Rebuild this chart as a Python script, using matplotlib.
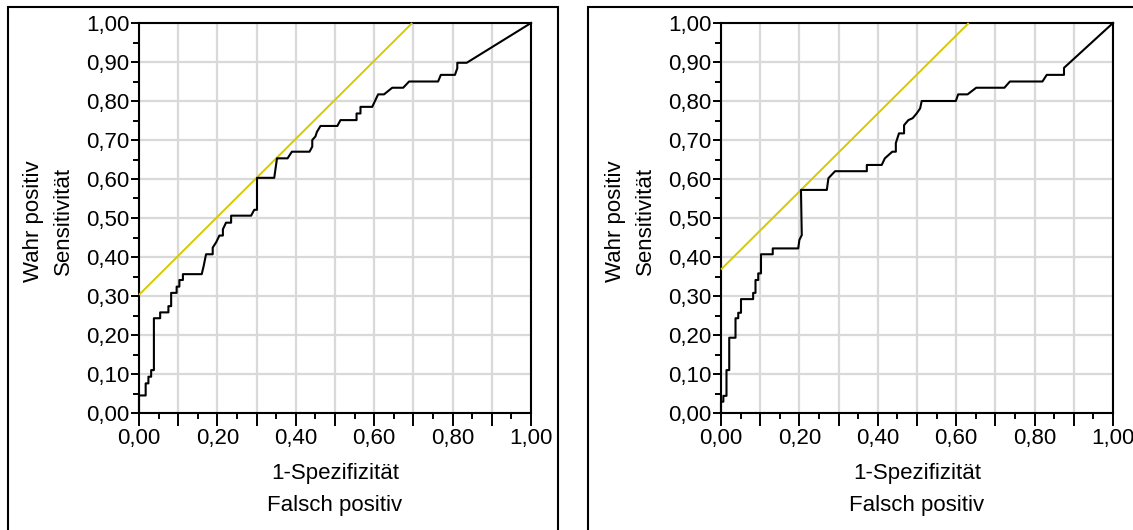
import matplotlib
matplotlib.use("Agg")
import matplotlib.pyplot as plt
from matplotlib.patches import Rectangle
from matplotlib.ticker import MultipleLocator, FuncFormatter

plt.rcParams['font.family'] = ['Liberation Sans', 'DejaVu Sans']

# ---- data: left ROC ----
fpr_left = [0, 0, 0.017, 0.017, 0.024, 0.024, 0.031, 0.031, 0.038, 0.038, 0.054, 0.054,
            0.075, 0.075, 0.082, 0.082, 0.096, 0.096, 0.103, 0.103, 0.112, 0.112, 0.160,
            0.165, 0.171, 0.188, 0.188, 0.197, 0.205, 0.214, 0.214, 0.222, 0.235, 0.235,
            0.286, 0.294, 0.301, 0.301, 0.345, 0.352, 0.379, 0.390, 0.435, 0.442, 0.442,
            0.450, 0.454, 0.463, 0.506, 0.514, 0.555, 0.555, 0.565, 0.565, 0.595, 0.610,
            0.625, 0.646, 0.674, 0.689, 0.763, 0.770, 0.806, 0.812, 0.812, 0.836, 1.0]
tpr_left = [0, 0.045, 0.045, 0.076, 0.076, 0.093, 0.093, 0.110, 0.110, 0.243, 0.243, 0.258,
            0.258, 0.274, 0.274, 0.308, 0.308, 0.324, 0.324, 0.341, 0.341, 0.356, 0.356,
            0.377, 0.407, 0.407, 0.424, 0.438, 0.455, 0.455, 0.471, 0.488, 0.488, 0.506,
            0.506, 0.521, 0.521, 0.603, 0.603, 0.653, 0.653, 0.670, 0.670, 0.683, 0.700,
            0.709, 0.721, 0.736, 0.736, 0.751, 0.751, 0.768, 0.768, 0.785, 0.785, 0.817,
            0.817, 0.834, 0.834, 0.850, 0.850, 0.867, 0.867, 0.884, 0.898, 0.898, 1.0]

# ---- data: right ROC ----
fpr_right = [0, 0, 0.006, 0.006, 0.014, 0.014, 0.021, 0.021, 0.037, 0.037, 0.044, 0.044,
             0.051, 0.051, 0.082, 0.082, 0.088, 0.088, 0.095, 0.095, 0.102, 0.102, 0.132,
             0.132, 0.197, 0.200, 0.206, 0.204, 0.270, 0.274, 0.291, 0.372, 0.372, 0.410,
             0.418, 0.437, 0.446, 0.446, 0.454, 0.467, 0.467, 0.478, 0.489, 0.499, 0.508,
             0.512, 0.599, 0.605, 0.629, 0.651, 0.723, 0.737, 0.820, 0.831, 0.875, 0.875, 1.0]
tpr_right = [0, 0.029, 0.029, 0.044, 0.044, 0.110, 0.110, 0.193, 0.193, 0.243, 0.243, 0.257,
             0.257, 0.292, 0.292, 0.308, 0.308, 0.341, 0.341, 0.358, 0.358, 0.407, 0.407,
             0.422, 0.422, 0.444, 0.456, 0.572, 0.572, 0.602, 0.620, 0.620, 0.636, 0.636,
             0.653, 0.670, 0.670, 0.692, 0.717, 0.717, 0.738, 0.751, 0.756, 0.768, 0.781,
             0.800, 0.800, 0.817, 0.817, 0.834, 0.834, 0.850, 0.850, 0.867, 0.867, 0.885, 1.0]

# tangent (slope 1) reference lines: intercepts
intercept_left = 0.303
intercept_right = 0.368

x_label_lines = ["1-Spezifizität", "Falsch positiv"]
y_label_lines = ["Wahr positiv", "Sensitivität"]

W, H = 1133, 530
fig = plt.figure(figsize=(W / 100, H / 100), dpi=100)

def fx(px):
    return px / W

def fy(py):
    return 1 - py / H

FS = 16
YELLOW = '#d6ca00'

def make_panel(ax_left_px, fpr, tpr, intercept, box):
    ax_right_px = ax_left_px + 392
    ax = fig.add_axes([fx(ax_left_px), fy(413), fx(ax_right_px) - fx(ax_left_px), fy(23) - fy(413)])
    ax.set_xlim(0, 1)
    ax.set_ylim(0, 1)
    ax.xaxis.set_major_locator(MultipleLocator(0.1))
    ax.yaxis.set_major_locator(MultipleLocator(0.1))
    ax.xaxis.set_minor_locator(MultipleLocator(0.05))
    ax.yaxis.set_minor_locator(MultipleLocator(0.05))
    ax.grid(True, which='major', color='#d9d9d9', linewidth=1.6, zorder=0)
    ax.set_axisbelow(True)
    ax.tick_params(which='both', direction='out', top=False, right=False, width=1.4,
                   labelsize=FS, colors='black')
    ax.tick_params(which='major', length=6, pad=1)
    ax.tick_params(which='minor', length=4)
    ax.tick_params(axis='x', which='major', length=9, pad=1.5)
    ax.yaxis.set_major_formatter(FuncFormatter(lambda v, p: f"{v:.2f}".replace('.', ',')))
    def xfmt(v, p):
        r = round(v * 10)
        return f"{v:.2f}".replace('.', ',') if r % 2 == 0 else ""
    ax.xaxis.set_major_formatter(FuncFormatter(xfmt))
    for s in ax.spines.values():
        s.set_linewidth(1.5)
        s.set_color('black')
    # curves
    ax.plot([0, 1 - intercept], [intercept, 1], color=YELLOW, linewidth=1.4, zorder=3,
            solid_capstyle='butt', clip_on=False)
    ax.plot(fpr, tpr, color='black', linewidth=1.5, zorder=4, clip_on=False)
    # axis titles
    cx = (ax_left_px + ax_right_px) / 2
    fig.text(fx(cx), fy(473), x_label_lines[0], ha='center', va='center', fontsize=FS)
    fig.text(fx(cx), fy(505), x_label_lines[1], ha='center', va='center', fontsize=FS)
    fig.text(fx(ax_left_px - 106), fy(221), y_label_lines[0], ha='center', va='center',
             rotation=90, fontsize=FS)
    fig.text(fx(ax_left_px - 76), fy(221), y_label_lines[1], ha='center', va='center',
             rotation=90, fontsize=FS)
    # panel box
    bx0, by0, bx1, by1 = box
    fig.patches.append(Rectangle((fx(bx0), fy(by1)), fx(bx1) - fx(bx0), fy(by0) - fy(by1),
                                 transform=fig.transFigure, fill=False, edgecolor='black',
                                 linewidth=1.5))
    return ax

make_panel(139, fpr_left, tpr_left, intercept_left, (8, 7, 558, 540))
make_panel(721, fpr_right, tpr_right, intercept_right, (588, 7, 1145, 540))

fig.savefig("out.png", dpi=100)
